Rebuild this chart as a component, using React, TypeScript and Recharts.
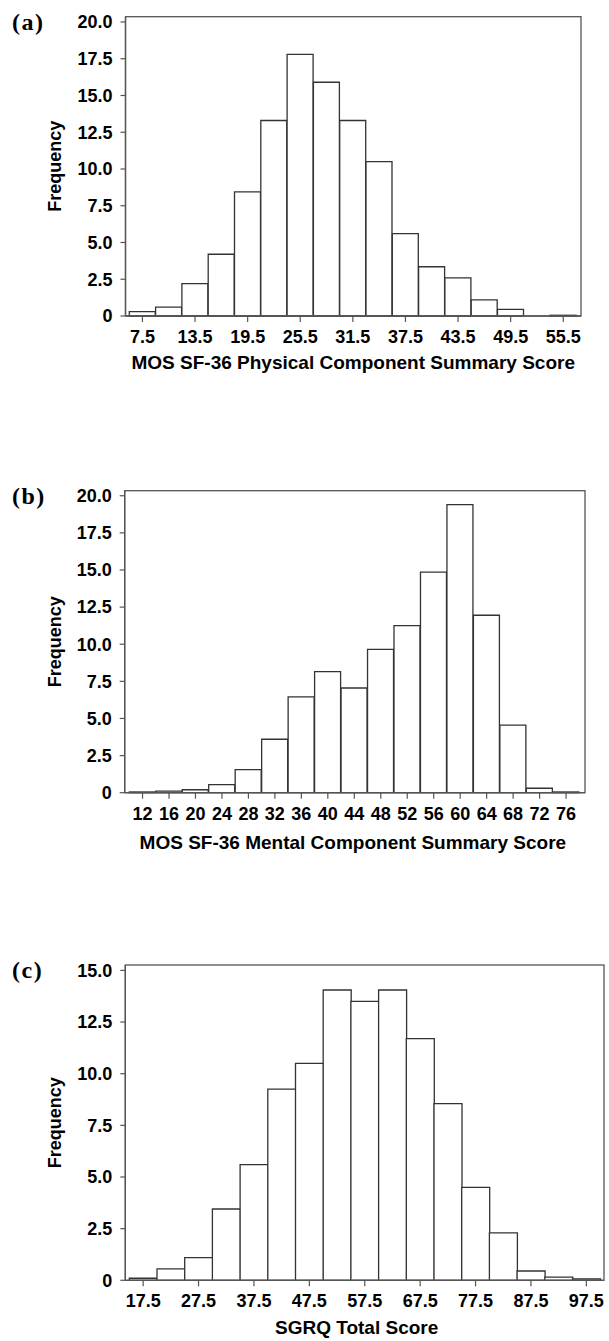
import React from 'react';
import { BarChart, Bar, XAxis, YAxis, Label } from 'recharts';

// (a) MOS SF-36 Physical Component Summary Score
const pcsBins = ['7.5', '10.5', '13.5', '16.5', '19.5', '22.5', '25.5', '28.5', '31.5', '34.5', '37.5', '40.5', '43.5', '46.5', '49.5', '52.5', '55.5'];
const pcsFreq = [0.3, 0.6, 2.2, 4.2, 8.45, 13.3, 17.8, 15.9, 13.3, 10.5, 5.6, 3.35, 2.6, 1.1, 0.45, 0, 0.05];

// (b) MOS SF-36 Mental Component Summary Score
const mcsBins = ['12', '16', '20', '24', '28', '32', '36', '40', '44', '48', '52', '56', '60', '64', '68', '72', '76'];
const mcsFreq = [0.05, 0.1, 0.2, 0.55, 1.55, 3.6, 6.45, 8.15, 7.05, 9.65, 11.25, 14.85, 19.4, 11.95, 4.55, 0.3, 0.05];

// (c) SGRQ Total Score
const sgrqBins = ['17.5', '22.5', '27.5', '32.5', '37.5', '42.5', '47.5', '52.5', '57.5', '62.5', '67.5', '72.5', '77.5', '82.5', '87.5', '92.5', '97.5'];
const sgrqFreq = [0.1, 0.55, 1.1, 3.45, 5.6, 9.25, 10.5, 14.05, 13.5, 14.05, 11.7, 8.55, 4.5, 2.3, 0.45, 0.15, 0.07];

const yTicks20 = [0, 2.5, 5, 7.5, 10, 12.5, 15, 17.5, 20];
const yTicks15 = [0, 2.5, 5, 7.5, 10, 12.5, 15];

const SANS = '"Liberation Sans", Arial, Helvetica, sans-serif';
const SERIF = '"Liberation Serif", "Times New Roman", serif';
const FRAME = '#555';
const BAR_STROKE = '#333';

const fmtY = (v: number) => (v === 0 ? '0' : v.toFixed(1));

type PanelProps = {
  letter: string;
  categories: string[];
  values: number[];
  title: string;
  yMax: number;
  yTicks: number[];
  tickInterval: number;
  top: number;
  height: number;
  plotTop: number;
  plotLeft: number;
  plotRight: number;
  plotBottom: number;
  padLeft: number;
  padRight: number;
  xTickMargin: number;
  titleBaseline: number;
  titleDx: number;
};

function Panel(p: PanelProps) {
  const data = p.categories.map((c, i) => ({ bin: c, freq: p.values[i] }));
  const marginLeft = 40;
  const xAxisHeight = p.height - p.plotBottom;
  const titleOffset = p.plotBottom + xAxisHeight - p.titleBaseline;
  const tickStyle = { fill: '#000', fontSize: 18, fontWeight: 'bold', fontFamily: SANS };
  const letterBaseline = p.plotTop + 13;
  return (
    <div style={{ position: 'absolute', left: 0, top: p.top, width: 609, height: p.height }}>
      <div style={{ position: 'absolute', left: 0, top: 0 }}>
        <BarChart
          width={609}
          height={p.height}
          data={data}
          barCategoryGap={0}
          margin={{ top: p.plotTop, left: marginLeft, right: 609 - p.plotRight, bottom: 0 }}
        >
          <XAxis
            dataKey="bin"
            interval={p.tickInterval}
            tickSize={6}
            tickMargin={p.xTickMargin}
            height={xAxisHeight}
            padding={{ left: p.padLeft, right: p.padRight }}
            axisLine={{ stroke: FRAME, strokeWidth: 1.3 }}
            tickLine={{ stroke: FRAME, strokeWidth: 1.2 }}
            tick={tickStyle}
          >
            <Label
              value={p.title}
              position="insideBottom"
              offset={titleOffset}
              dx={p.titleDx}
              style={{ fill: '#000', fontSize: 19, fontWeight: 'bold', fontFamily: SANS }}
            />
          </XAxis>
          <YAxis
            type="number"
            domain={[0, p.yMax]}
            ticks={p.yTicks}
            width={p.plotLeft - marginLeft}
            tickSize={5}
            tickMargin={8}
            tickFormatter={fmtY}
            axisLine={{ stroke: FRAME, strokeWidth: 1.3 }}
            tickLine={{ stroke: FRAME, strokeWidth: 1.2 }}
            tick={tickStyle}
          >
            <Label
              value="Frequency"
              angle={-90}
              position="insideLeft"
              offset={15}
              style={{ textAnchor: 'middle', fill: '#000', fontSize: 18, fontWeight: 'bold', fontFamily: SANS }}
            />
          </YAxis>
          <Bar dataKey="freq" fill="#fff" stroke={BAR_STROKE} strokeWidth={1.3} isAnimationActive={false} />
        </BarChart>
      </div>
      <svg
        width={609}
        height={p.height}
        style={{ position: 'absolute', left: 0, top: 0, pointerEvents: 'none' }}
      >
        <text x={12} y={letterBaseline} fontFamily={SERIF} fontWeight="bold" fontSize={24} letterSpacing={1.5} fill="#000">
          ({p.letter})
        </text>
        <rect
          x={p.plotLeft}
          y={p.plotTop}
          width={p.plotRight - p.plotLeft}
          height={p.plotBottom - p.plotTop}
          fill="none"
          stroke={FRAME}
          strokeWidth={1.3}
        />
      </svg>
    </div>
  );
}

export default function App() {
  return (
    <div style={{ position: 'absolute', left: 0, top: 0, width: 609, height: 1341, background: '#fff' }}>
      <Panel
        letter="a"
        categories={pcsBins}
        values={pcsFreq}
        title="MOS SF-36 Physical Component Summary Score"
        yMax={20.36}
        yTicks={yTicks20}
        tickInterval={1}
        top={0}
        height={380}
        plotTop={16.7}
        plotLeft={125.5}
        plotRight={581}
        plotBottom={316}
        padLeft={3.8}
        padRight={4.6}
        xTickMargin={8}
        titleBaseline={369}
        titleDx={0}
      />
      <Panel
        letter="b"
        categories={mcsBins}
        values={mcsFreq}
        title="MOS SF-36 Mental Component Summary Score"
        yMax={20.34}
        yTicks={yTicks20}
        tickInterval={0}
        top={440}
        height={420}
        plotTop={50.7}
        plotLeft={124.7}
        plotRight={585}
        plotBottom={352.7}
        padLeft={4.6}
        padRight={5.7}
        xTickMargin={9}
        titleBaseline={409}
        titleDx={-2}
      />
      <Panel
        letter="c"
        categories={sgrqBins}
        values={sgrqFreq}
        title="SGRQ Total Score"
        yMax={15.26}
        yTicks={yTicks15}
        tickInterval={1}
        top={920}
        height={421}
        plotTop={45}
        plotLeft={125.3}
        plotRight={604}
        plotBottom={360.3}
        padLeft={4}
        padRight={3.8}
        xTickMargin={8}
        titleBaseline={414}
        titleDx={-8}
      />
    </div>
  );
}
